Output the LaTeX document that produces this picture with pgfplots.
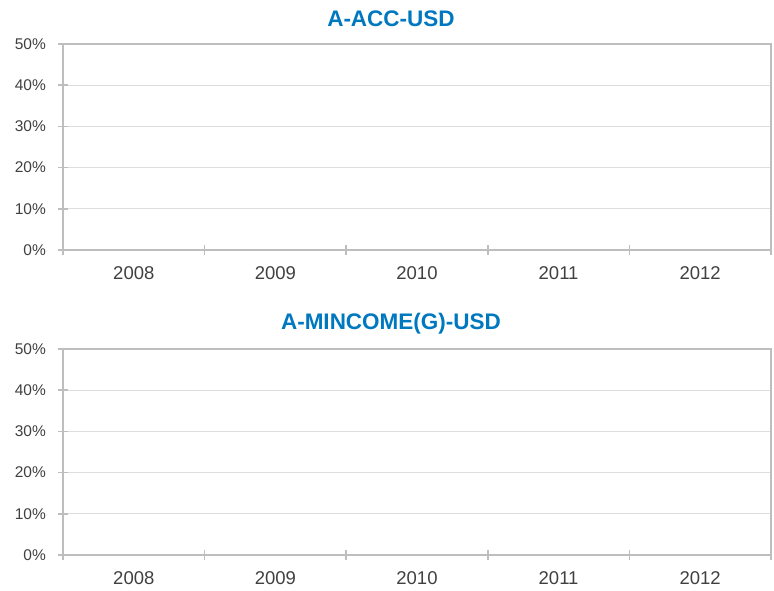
\documentclass[border=0pt]{standalone}
\usepackage{fontspec}
\setmainfont{Liberation Sans}
\usepackage{pgfplots}
\pgfplotsset{compat=1.18}
\definecolor{titleblue}{RGB}{0,120,192}
\definecolor{axgray}{RGB}{190,190,190}
\definecolor{gridgray}{RGB}{222,222,222}
\definecolor{labgray}{RGB}{64,64,64}
\pgfplotsset{
  yrchart/.style={
    scale only axis,
    width=708bp, height=206bp,
    xmin=-0.5, xmax=4.5,
    ymin=0, ymax=50,
    axis line style={draw=axgray, line width=1.5bp},
    tick style={draw=axgray, line width=1.5bp},
    tick align=center,
    major tick length=10bp,
    tick pos=left,
    ytick={0,10,20,30,40,50},
    yticklabels={0\%,10\%,20\%,30\%,40\%,50\%},
    ymajorgrids,
    grid style={draw=gridgray, line width=1bp},
    xtick={-0.5,0.5,1.5,2.5,3.5,4.5},
    xticklabels={},
    extra x ticks={0,1,2,3,4},
    extra x tick labels={2008,2009,2010,2011,2012},
    extra x tick style={major tick length=0pt, grid=none},
    y tick label style={font=\fontsize{15.5bp}{17bp}\selectfont, text=labgray, anchor=east, inner sep=0pt, xshift=-12bp},
    x tick label style={font=\fontsize{18.5bp}{20bp}\selectfont, text=labgray, anchor=north, inner sep=0pt, yshift=-16bp},
    title style={font=\fontsize{22.5bp}{24bp}\selectfont\bfseries, text=titleblue, at={(rel axis cs:0.5,1)}, anchor=center, inner sep=0pt, xshift=-26bp, yshift=19bp},
  }
}
\begin{document}
\begin{tikzpicture}
\path[use as bounding box] (0,0) rectangle (774bp,591bp);
\begin{axis}[yrchart, at={(63bp,341bp)}, anchor=south west, title={A-ACC-USD}]
\addplot[ybar, draw=none, fill=none, forget plot] coordinates {(0,0) (1,0) (2,0) (3,0) (4,0)};
\end{axis}
\begin{axis}[yrchart, at={(63bp,36bp)}, anchor=south west, title={A-MINCOME(G)-USD}]
\addplot[ybar, draw=none, fill=none, forget plot] coordinates {(0,0) (1,0) (2,0) (3,0) (4,0)};
\end{axis}
\end{tikzpicture}
\end{document}
